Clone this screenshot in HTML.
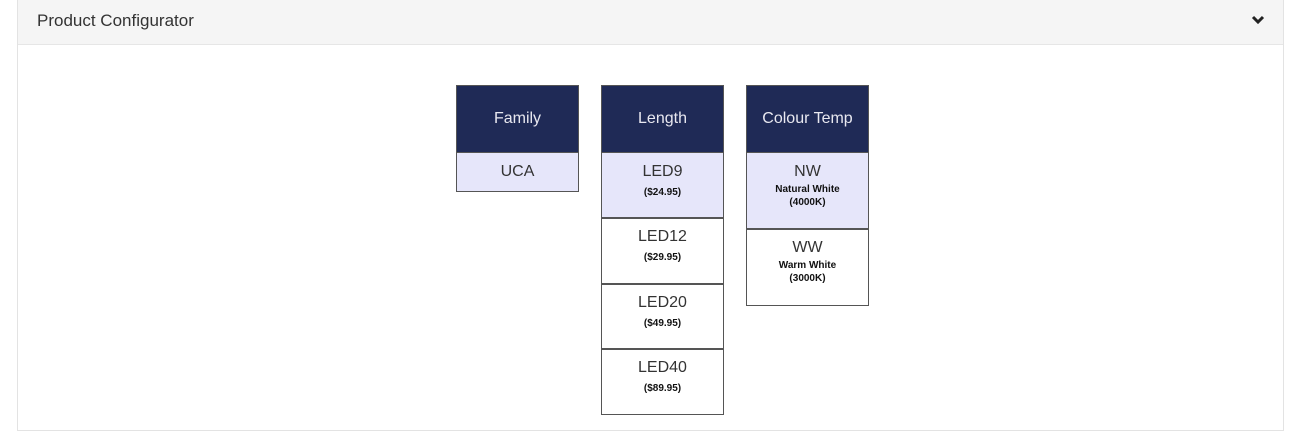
<!DOCTYPE html>
<html><head><style>
body{margin:0;width:1300px;height:425px;background:#fff;position:relative;overflow:hidden;font-family:"Liberation Sans",sans-serif}
.panel{position:absolute;left:17px;top:-1px;width:1265px;height:430px;border:1px solid #e3e3e3;background:#fff}
.hd{position:absolute;left:0;top:0;width:1265px;height:44px;background:#f5f5f5;border-bottom:1px solid #e6e6e6}
.hd span{position:absolute;left:19px;top:11px;font-size:17px;color:#333}
.b{position:absolute;box-sizing:border-box;border:1.5px solid #555;text-align:center;color:#333}
.h{background:#1f2a56;color:#e8e8f0;font-size:16px;line-height:66px}
.s{background:#e6e6fa}
.t{font-size:16px;margin-top:10px}
.p{font-size:10px;font-weight:bold;color:#111;margin-top:5px;line-height:13px}
</style></head><body>
<div class="panel"><div class="hd"><span>Product Configurator</span>
<svg style="position:absolute;right:18px;top:14px" width="14" height="12" viewBox="0 0 14 12"><path d="M2 3 L7 8 L12 3" stroke="#222" stroke-width="3" fill="none"/></svg></div></div>

<div class="b h" style="left:456px;top:85px;width:123px;height:69px">Family</div>
<div class="b s" style="left:456px;top:152px;width:123px;height:40px"><div class="t">UCA</div></div>

<div class="b h" style="left:601px;top:85px;width:123px;height:69px">Length</div>
<div class="b s" style="left:601px;top:152px;width:123px;height:67px"><div class="t">LED9</div><div class="p">($24.95)</div></div>
<div class="b" style="left:601px;top:217px;width:123px;height:68px"><div class="t">LED12</div><div class="p">($29.95)</div></div>
<div class="b" style="left:601px;top:283px;width:123px;height:67px"><div class="t">LED20</div><div class="p">($49.95)</div></div>
<div class="b" style="left:601px;top:348px;width:123px;height:67px"><div class="t">LED40</div><div class="p">($89.95)</div></div>

<div class="b h" style="left:746px;top:85px;width:123px;height:69px">Colour Temp</div>
<div class="b s" style="left:746px;top:152px;width:123px;height:78px"><div class="t">NW</div><div class="p" style="margin-top:2px">Natural White<br>(4000K)</div></div>
<div class="b" style="left:746px;top:228px;width:123px;height:78px"><div class="t">WW</div><div class="p" style="margin-top:2px">Warm White<br>(3000K)</div></div>
</body></html>
